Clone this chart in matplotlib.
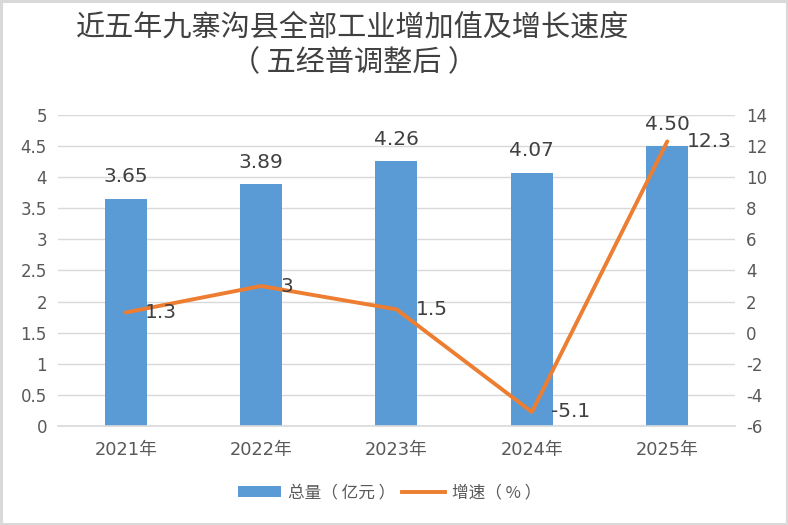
import matplotlib
matplotlib.use("Agg")
import matplotlib.pyplot as plt
from matplotlib.patches import Rectangle
from matplotlib.lines import Line2D
from matplotlib.patches import Patch

plt.rcParams['font.family'] = ['DejaVu Sans', 'Noto Sans CJK SC']

years = ["2021年", "2022年", "2023年", "2024年", "2025年"]
totals = [3.65, 3.89, 4.26, 4.07, 4.50]
total_labels = ["3.65", "3.89", "4.26", "4.07", "4.50"]
growth = [1.3, 3, 1.5, -5.1, 12.3]
growth_labels = ["1.3", "3", "1.5", "-5.1", "12.3"]
left_ticks = [0, 0.5, 1, 1.5, 2, 2.5, 3, 3.5, 4, 4.5, 5]
right_ticks = [-6, -4, -2, 0, 2, 4, 6, 8, 10, 12, 14]

BLUE = "#5B9BD5"
ORANGE = "#ED7D31"
GRID = "#D9D9D9"
TICK = "#595959"
LABEL = "#404040"

fig = plt.figure(figsize=(7.88, 5.25), dpi=100)
ax = fig.add_axes([0.0736, 0.1886, 0.8591, 0.5924])
x = list(range(len(years)))

ax.bar(x, totals, width=0.31, color=BLUE, zorder=2)
ax.set_xlim(-0.5, 4.5)
ax.set_ylim(0, 5)
ax.set_yticks(left_ticks)
ax.set_yticklabels([f"{t:g}" for t in left_ticks])
ax.set_xticks(x)
ax.set_xticklabels(years, family=['DejaVu Sans', 'Noto Sans CJK SC'], fontsize=12.8)
ax.grid(axis='y', color=GRID, linewidth=1, zorder=0)
ax.set_axisbelow(True)
for s in ['top', 'left', 'right']:
    ax.spines[s].set_visible(False)
ax.spines['bottom'].set_color(GRID)
ax.spines['bottom'].set_linewidth(1.2)
ax.tick_params(axis='y', length=0, labelsize=12, colors=TICK, pad=8)
ax.tick_params(axis='x', length=0, colors=TICK, pad=11)

for xi, v, lab in zip(x, totals, total_labels):
    ax.annotate(lab, (xi, v), xytext=(0, 9), textcoords='offset points',
                ha='center', va='bottom', fontsize=14.5, color=LABEL)

ax2 = ax.twinx()
ax2.set_ylim(-6, 14)
ax2.set_yticks(right_ticks)
ax2.set_yticklabels([f"{t:g}" for t in right_ticks])
for s in ['top', 'left', 'right', 'bottom']:
    ax2.spines[s].set_visible(False)
ax2.tick_params(axis='y', length=0, labelsize=12, colors=TICK, pad=8)
ax2.plot(x, growth, color=ORANGE, linewidth=2.8, solid_capstyle='round', zorder=3)
for xi, v, lab in zip(x, growth, growth_labels):
    ax2.annotate(lab, (xi, v), xytext=(14, 0), textcoords='offset points',
                 ha='left', va='center', fontsize=14.5, color=LABEL)

cjk = ['Noto Sans CJK SC', 'DejaVu Sans']
fig.text(0.448, 0.947, "近五年九寨沟县全部工业增加值及增长速度", ha='center', va='center',
         fontsize=21, color=LABEL, family=cjk)
fig.text(0.449, 0.880, "（ 五经普调整后 ）", ha='center', va='center',
         fontsize=21, color=LABEL, family=cjk)

handles = [Patch(facecolor=BLUE, edgecolor='none'),
           Line2D([0], [0], color=ORANGE, linewidth=2.8)]
leg = fig.legend(handles, ["总量（ 亿元 ）", "增速（ % ）"], loc='center',
                 bbox_to_anchor=(0.494, 0.061), ncol=2, frameon=False,
                 prop={'family': cjk, 'size': 12}, handlelength=2.6,
                 handleheight=0.65, columnspacing=0.4, handletextpad=0.4)
for t in leg.get_texts():
    t.set_color(TICK)

fig.patches.append(Rectangle((0.001, 0.002), 0.998, 0.996, transform=fig.transFigure,
                             fill=False, edgecolor=GRID, linewidth=2.2))

fig.savefig("out.png", dpi=100)
